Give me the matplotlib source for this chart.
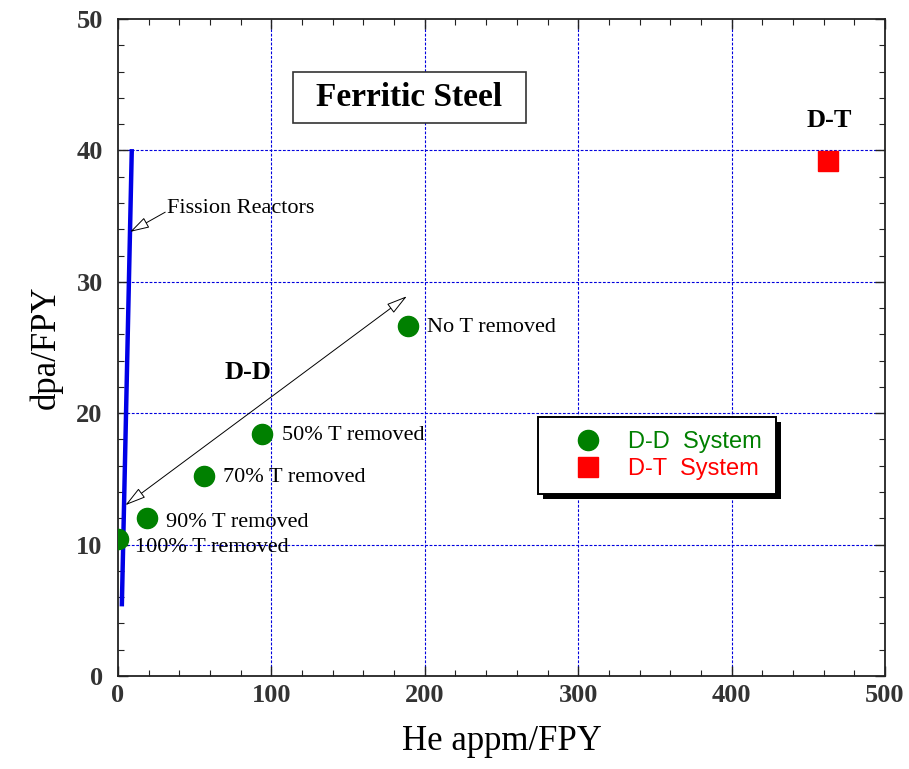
import matplotlib
matplotlib.use("Agg")
import matplotlib.pyplot as plt
from matplotlib.ticker import MultipleLocator
from matplotlib.patches import Rectangle

# ---- data ----
dd_labels = ["100% T removed", "90% T removed", "70% T removed", "50% T removed", "No T removed"]
dd_he = [0.0, 18.8, 56.0, 94.0, 189.0]
dd_dpa = [10.4, 12.0, 15.2, 18.4, 26.6]
dt_he = [463.0]
dt_dpa = [39.2]
fission_he = [2.5, 9.0]
fission_dpa = [5.3, 40.1]
x_ticks = [0, 100, 200, 300, 400, 500]
y_ticks = [0, 10, 20, 30, 40, 50]

serif = "Liberation Serif"
sans = "Liberation Sans"

fig = plt.figure(figsize=(9.09, 7.69), dpi=100)
ax = fig.add_axes([0.1298, 0.1209, 0.8438, 0.8544])
ax.set_xlim(0, 500)
ax.set_ylim(0, 50)

# grid
for xv in x_ticks[1:-1]:
    ax.axvline(xv, color="#0000dd", lw=0.8, dashes=(2.5, 1.5), zorder=0)
for yv in y_ticks[1:-1]:
    ax.axhline(yv, color="#0000dd", lw=0.8, dashes=(2.5, 1.5), zorder=0)

# fission line
ax.plot(fission_he, fission_dpa, color="#0000e6", lw=3.2, zorder=3, solid_capstyle="butt")

# points
ax.plot(dd_he, dd_dpa, "o", color="#008000", ms=14.5, ls="none", zorder=4, label="D-D  System")
ax.plot(dt_he, dt_dpa, "s", color="#ff0000", ms=14, ls="none", zorder=4, label="D-T  System")

# point labels
offsets = [(12, -6), (14, -3), (14, -1), (14, -1), (14, -1)]
for lab, xv, yv, off in zip(dd_labels, dd_he, dd_dpa, offsets):
    ax.annotate(lab, (xv, yv), xytext=off, textcoords="offset points",
                ha="left", va="center", fontsize=16, family=serif, zorder=5)

# fission reactors annotation
ax.text(32, 35.6, "Fission Reactors", fontsize=16, family=serif, va="center", ha="left")
ax.annotate("", xy=(7.9, 33.8), xytext=(30.8, 35.3),
            arrowprops=dict(arrowstyle="-|>,head_length=1.2,head_width=0.35",
                            fc="white", ec="black", lw=0.7,
                            shrinkA=0, shrinkB=0))

# D-D double arrow
ax.annotate("", xy=(4.8, 13.0), xytext=(188.3, 28.9),
            arrowprops=dict(arrowstyle="<|-|>,head_length=1.3,head_width=0.35",
                            fc="white", ec="black", lw=0.7,
                            shrinkA=0, shrinkB=0))
ax.text(84.5, 23.1, "D-D", fontsize=19, family=serif, fontweight="bold",
        ha="center", va="center")
ax.text(463.5, 42.3, "D-T", fontsize=19, family=serif, fontweight="bold",
        ha="center", va="center")

# title box
ax.add_patch(Rectangle((114, 42.1), 152, 3.9, fc="white", ec="#333333", lw=1.2, zorder=5))
ax.text(190, 44.0, "Ferritic Steel", fontsize=24, family=serif, fontweight="bold",
        ha="center", va="center", zorder=6)

# axes styling
ax.xaxis.set_major_locator(MultipleLocator(100))
ax.xaxis.set_minor_locator(MultipleLocator(20))
ax.yaxis.set_major_locator(MultipleLocator(10))
ax.yaxis.set_minor_locator(MultipleLocator(2))
ax.tick_params(which="both", direction="in", top=True, right=True, colors="#222222")
ax.tick_params(which="major", length=7, width=1.0, labelsize=19)
ax.tick_params(axis="x", which="major", pad=6)
ax.tick_params(axis="y", which="major", pad=11)
ax.tick_params(which="minor", length=4, width=0.8)
for lab in ax.get_xticklabels() + ax.get_yticklabels():
    lab.set_family(serif)
    lab.set_fontweight("bold")
    lab.set_color("#333333")
for sp in ax.spines.values():
    sp.set_linewidth(1.3)
    sp.set_color("#222222")

ax.set_xlabel("He appm/FPY", fontsize=25, family=serif, labelpad=13)
ax.set_ylabel("dpa/FPY", fontsize=25, family=serif, labelpad=10)

leg = ax.legend(loc="upper left", bbox_to_anchor=(0.548, 0.394), prop={"family": sans, "size": 17},
                frameon=True, fancybox=False, edgecolor="black", framealpha=1,
                handletextpad=0.2, borderpad=0.6, labelspacing=0.2, handlelength=3.0,
                borderaxespad=0, markerscale=1.0)
leg.get_frame().set_linewidth(1.4)
leg.set_zorder(6)
for t, c in zip(leg.get_texts(), ["#008000", "#ff0000"]):
    t.set_color(c)

# hard black drop shadow behind the legend
fig.canvas.draw()
bb = leg.get_window_extent().transformed(ax.transAxes.inverted())
dx = 5 / (ax.bbox.width)
dy = 5 / (ax.bbox.height)
ax.add_patch(Rectangle((bb.x0 + dx, bb.y0 - dy), bb.width, bb.height, transform=ax.transAxes,
                       fc="black", ec="none", zorder=5.9, clip_on=False))

fig.savefig("out.png", dpi=100)
